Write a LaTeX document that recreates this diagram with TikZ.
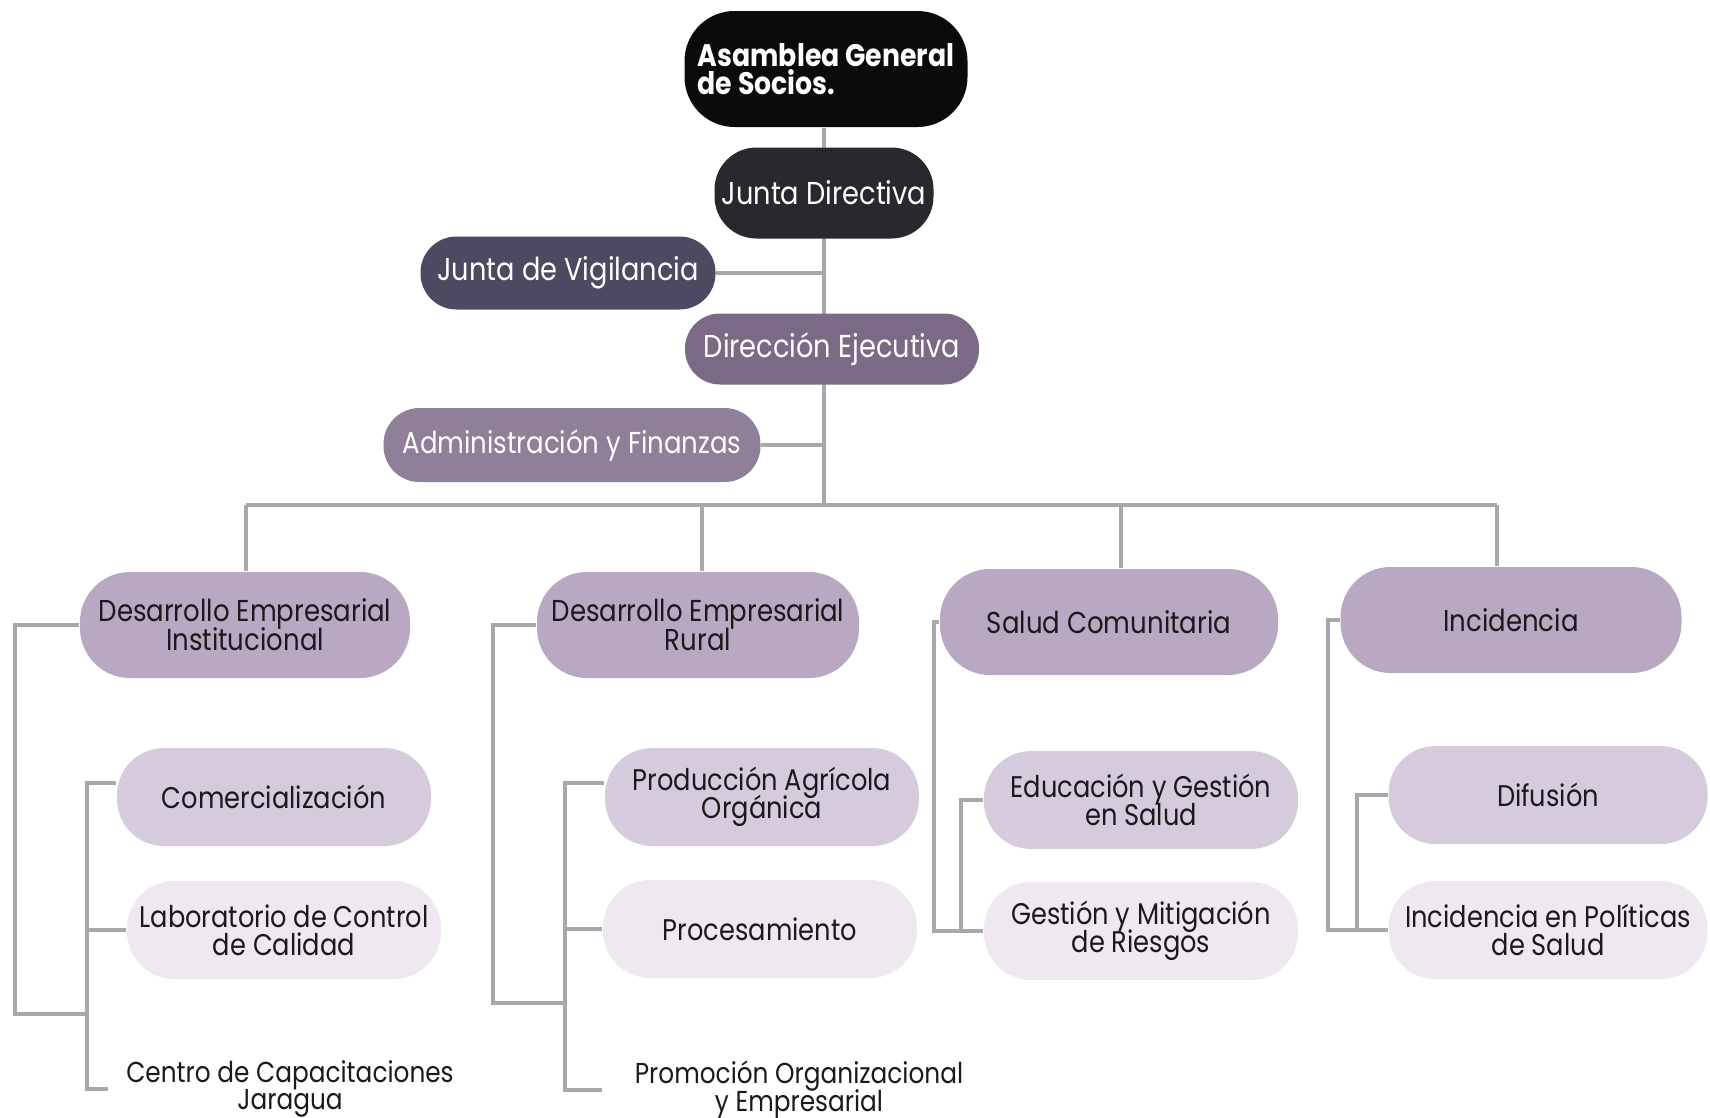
\documentclass[tikz,border=0pt]{standalone}
\usepackage{fontspec}
\setmainfont[FakeStretch=0.86]{Poppins}
\usetikzlibrary{backgrounds}
\setlength{\lineskiplimit}{-20pt}

\definecolor{asamblea}{HTML}{0B0A0C}
\definecolor{directiva}{HTML}{2A272D}
\definecolor{vigilancia}{HTML}{4E4860}
\definecolor{ejecutiva}{HTML}{7A6A85}
\definecolor{finanzas}{HTML}{8F7F98}
\definecolor{area}{HTML}{B9A8C2}
\definecolor{programa}{HTML}{D5CBDC}
\definecolor{tenue}{HTML}{EFE8F1}
\definecolor{linea}{HTML}{A9A7AE}
\definecolor{texto}{HTML}{1A191C}

\begin{document}
\begin{tikzpicture}[
  pill/.style={rectangle,rounded corners=0.42cm,inner sep=0pt,align=center},
  board node/.style={pill,text=white,font=\fontsize{9}{8}\selectfont},
  area node/.style={pill,fill=area,text=texto,minimum width=3.3cm,minimum height=1.06cm,
    rounded corners=0.5cm,font=\fontsize{8.6}{8.2}\selectfont},
  sub node/.style={pill,fill=programa,text=texto,minimum width=3.14cm,minimum height=0.98cm,
    rounded corners=0.47cm,font=\fontsize{8.5}{8}\selectfont},
  faint node/.style={sub node,fill=tenue},
  plain node/.style={align=center,text=texto,font=\fontsize{8.2}{7.8}\selectfont},
  link/.style={draw=linea,line width=1.1pt}]

\useasboundingbox (0,0) rectangle (17.10,-11.17);

% governance
\node[board node,fill=asamblea,minimum width=2.83cm,minimum height=1.16cm,
  rounded corners=0.5cm,align=left,font=\bfseries\fontsize{8.85}{8}\selectfont]
  (asamblea) at (8.26,-0.69) {Asamblea General\\de Socios.};
\node[board node,fill=directiva,minimum width=2.19cm,minimum height=0.91cm] (directiva) at (8.24,-1.93) {Junta Directiva};
\node[board node,fill=vigilancia,minimum width=2.95cm,minimum height=0.73cm,rounded corners=0.36cm] (vigilancia) at (5.68,-2.73) {Junta de Vigilancia};
\node[board node,fill=ejecutiva,minimum width=2.94cm,minimum height=0.71cm,rounded corners=0.35cm] (direccion) at (8.32,-3.49) {Dirección Ejecutiva};
\node[board node,fill=finanzas,minimum width=3.77cm,minimum height=0.74cm,rounded corners=0.36cm,
  font=\fontsize{8.6}{8}\selectfont] (admin) at (5.72,-4.45) {Administración y Finanzas};

% areas
\node[area node] (dei) at (2.45,-6.25) {Desarrollo Empresarial\\Institucional};
\node[area node,minimum width=3.22cm] (der) at (6.98,-6.25) {Desarrollo Empresarial\\Rural};
\node[area node,minimum width=3.38cm] (salud) at (11.09,-6.22) {Salud Comunitaria};
\node[area node,minimum width=3.41cm] (incid) at (15.11,-6.20) {Incidencia};

% programas
\node[sub node] (comerc) at (2.74,-7.97) {Comercialización};
\node[faint node] (labor) at (2.84,-9.30) {Laboratorio de Control\\de Calidad};
\node[plain node] (centro) at (2.90,-10.89) {Centro de Capacitaciones\\Jaragua};

\node[sub node] (produc) at (7.62,-7.97) {Producción Agrícola\\Orgánica};
\node[faint node] (proces) at (7.60,-9.29) {Procesamiento};
\node[plain node] (promo) at (7.99,-10.90) {Promoción Organizacional\\y Empresarial};

\node[sub node] (educ) at (11.41,-8.00) {Educación y Gestión\\en Salud};
\node[faint node] (gestion) at (11.41,-9.31) {Gestión y Mitigación\\de Riesgos};

\node[sub node,minimum width=3.19cm] (difus) at (15.48,-7.95) {Difusión};
\node[faint node,minimum width=3.19cm] (polit) at (15.48,-9.30) {Incidencia en Políticas\\de Salud};

\begin{scope}[on background layer]
  \coordinate (bar) at (8.24,-5.05);
  \draw[link] (asamblea.south -| bar) -- (bar);
  \draw[link] (vigilancia.east) -- (vigilancia.east -| bar);
  \draw[link] (admin.east) -- (admin.east -| bar);
  \draw[link] (2.46,-5.05) -- (14.97,-5.05);
  \foreach \n/\x in {dei/2.46,der/7.02,salud/11.21,incid/14.97}
    \draw[link] (\x,-5.05) -- (\n.north -| \x,0);

  % brackets
  \coordinate (dei joint) at (0.87,-10.14);
  \draw[link] (dei.west) -| (0.15,-10.14) -- (dei joint);
  \draw[link] ([yshift=0.14cm]comerc.west) -| (centro.west -| dei joint) -- ([xshift=-0.06cm]centro.west);
  \draw[link] (labor.west) -- (labor.west -| dei joint);

  \coordinate (der joint) at (5.65,-10.03);
  \draw[link] (der.west) -| (4.93,-10.03) -- (der joint);
  \draw[link] ([yshift=0.14cm]produc.west) -| (promo.west -| der joint) -- ([xshift=-0.2cm]promo.west);
  \draw[link] (proces.west) -- (proces.west -| der joint);

  \draw[link] (salud.west) -| ([xshift=-0.49cm]gestion.west) -- (gestion.west);
  \draw[link] (educ.west) -| ([xshift=-0.22cm]gestion.west);

  \draw[link] (incid.west) -| ([xshift=-0.60cm]polit.west) -- (polit.west);
  \draw[link] (difus.west) -| ([xshift=-0.31cm]polit.west);
\end{scope}
\end{tikzpicture}
\end{document}
